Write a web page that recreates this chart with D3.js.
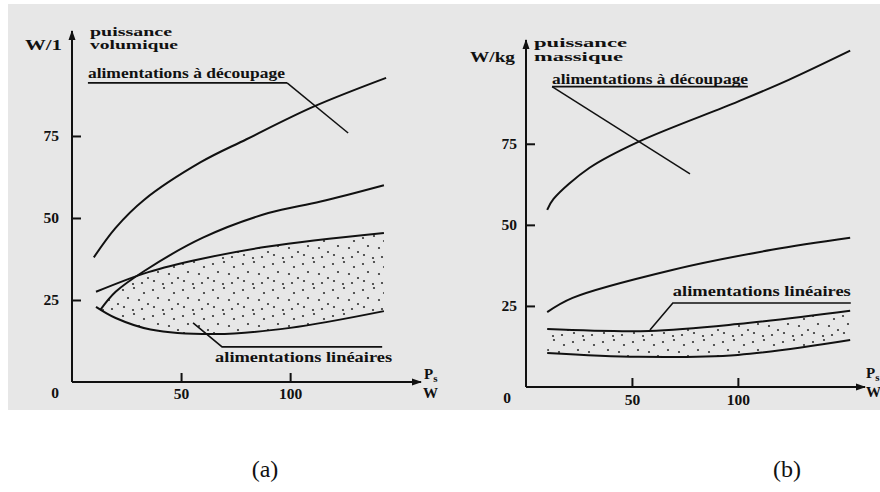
<!DOCTYPE html>
<html><head><meta charset="utf-8">
<script src="https://cdn.jsdelivr.net/npm/d3@7"></script>
<style>
body{margin:0;background:#fff}
svg{display:block}
</style>
</head><body>
<svg id="c" width="880" height="492"></svg>
<script>
// ---- data ----
const xTickValues = [50, 100];
const yTickValues = [25, 50, 75];

// (a) puissance volumique, W/l  vs Ps (W)
const volDecoupageHigh = [[10,38],[20,47],[33,55.5],[59,67],[80,74],[111,84],[144,92.7]];
const volDecoupageLow  = [[13,22],[20,27.5],[33.5,34],[60,44],[90,51.5],[114,55],[143,60]];
const volLineaireHigh  = [[11,27.5],[35,33.5],[59,37.5],[90,41.3],[143,45.4]];
const volLineaireLow   = [[11,22.9],[20,19.5],[36,16],[66,14.6],[100,16.5],[143,21.6]];

// (b) puissance massique, W/kg vs Ps (W)
const masDecoupageHigh = [[10,54.6],[13,58],[30,67.6],[53,75.6],[100,88],[124,94.7],[153,103.7]];
const masDecoupageLow  = [[10,23.1],[22,27.5],[69,36.1],[116,42.3],[153,46]];
const masLineaireHigh  = [[10,17.9],[58,17.3],[100,19.4],[153,23.5]];
const masLineaireLow   = [[10,10.5],[53,9.3],[100,9.9],[153,14.5]];

const labelDecoupage = "alimentations à découpage";
const labelLineaire = "alimentations linéaires";

// ---- drawing ----
const FONT = "'Liberation Serif'";
const INK = "#111";
const svg = d3.select("#c");
function txt(sel, x, y, s, size, bold){
  return sel.append("text").attr("x",x).attr("y",y)
    .style("font-family",FONT).style("font-size",size+"px")
    .style("font-weight",bold?"bold":"normal").style("fill",INK).text(s);
}
svg.append("rect").attr("x",0).attr("y",0).attr("width",880).attr("height",492).attr("fill","#fff");
svg.append("rect").attr("x",8).attr("y",4).attr("width",872).attr("height",406).attr("fill","#e7e7e7");

const defs = svg.append("defs");
defs.append("marker").attr("id","arrow").attr("viewBox","0 0 10 8")
  .attr("refX",9).attr("refY",4).attr("markerWidth",10).attr("markerHeight",8)
  .attr("markerUnits","userSpaceOnUse").attr("orient","auto")
  .append("path").attr("d","M0,0.5 L10,4 L0,7.5 Z").attr("fill",INK);

const pat = defs.append("pattern").attr("id","dots").attr("patternUnits","userSpaceOnUse")
  .attr("width",30).attr("height",26);
[[3,4],[14,2],[24,7],[8,12],[19,14],[28,18],[4,21],[13,24],[22,23]].forEach(p=>{
  pat.append("circle").attr("cx",p[0]).attr("cy",p[1]).attr("r",1.1).attr("fill","#333");
});

const panels = [
  {
    id:"a", xr:[72,421], yr:[382,31], ypad:13, xpad:6,
    unit:"W/1", unitX:25, unitY:50, unitLen:37,
    title:["puissance","volumique"], titleX:90, titleY:[36,49], titleLen:[82,88],
    dHigh:volDecoupageHigh, dLow:volDecoupageLow, lHigh:volLineaireHigh, lLow:volLineaireLow,
    zero:[-17,16], ps:[424,379], w:[423,398],
    dec:{tx:7.3, ty:92.7, len:197, ul:[7.3,91.2,98.6], lead:[126.6,75.9]},
    lin:{tx:65.6, ty:6.1, len:177, ul:[68.8,10.7,142.2], lead:[55.5,18]},
    clipByLow:true, cap:"(a)", capX:265
  },
  {
    id:"b", xr:[526,865], yr:[387,40], ypad:9, xpad:7,
    unit:"W/kg", unitX:470, unitY:62, unitLen:45,
    title:["puissance","massique"], titleX:534, titleY:[47,61], titleLen:[93,89],
    dHigh:masDecoupageHigh, dLow:masDecoupageLow, lHigh:masLineaireHigh, lLow:masLineaireLow,
    zero:[-19,16], ps:[866,378], w:[866,397],
    dec:{tx:12.3, ty:93.5, len:196, ul:[12.3,92.6,104.7], lead:[77.4,65.7]},
    lin:{tx:69.3, ty:28.1, len:178, ul:[69.3,25.9,153.3], lead:[58.5,17.6]},
    clipByLow:false, cap:"(b)", capX:787
  }
];

panels.forEach(p=>{
  const xs = d3.scaleLinear().domain([0,160]).range(p.xr);
  const ys = d3.scaleLinear().domain([0,107]).range(p.yr);
  const g = svg.append("g");
  const line = d3.line().x(d=>xs(d[0])).y(d=>ys(d[1])).curve(d3.curveCatmullRom.alpha(0.5));

  // dotted fill between linear boundaries
  const fillPath = line(p.lHigh) + "L" + line(p.lLow.slice().reverse()).slice(1) + "Z";
  const fillSel = g.append("path").attr("d",fillPath).attr("fill","url(#dots)").attr("stroke","none");
  if (p.clipByLow){
    const cpId = "clip"+p.id;
    const pts = p.dLow;
    const clipD = line(pts) + "L" + xs(170) + "," + ys(pts[pts.length-1][1]) + "L" + xs(170) + "," + ys(-5) + "L" + xs(pts[0][0]) + "," + ys(-5) + "Z";
    defs.append("clipPath").attr("id",cpId).append("path").attr("d",clipD);
    fillSel.attr("clip-path","url(#"+cpId+")");
  }

  // curves
  [p.dHigh,p.dLow,p.lHigh,p.lLow].forEach(s=>{
    g.append("path").attr("d",line(s)).attr("fill","none").attr("stroke",INK).attr("stroke-width",2);
  });

  // axes lines with arrows
  g.append("line").attr("x1",xs(0)).attr("y1",ys(0)).attr("x2",xs(0)).attr("y2",p.yr[1])
    .attr("stroke",INK).attr("stroke-width",2).attr("marker-end","url(#arrow)");
  g.append("line").attr("x1",xs(0)).attr("y1",ys(0)).attr("x2",p.xr[1]).attr("y2",ys(0))
    .attr("stroke",INK).attr("stroke-width",2).attr("marker-end","url(#arrow)");

  const ya = g.append("g").attr("transform","translate("+xs(0)+",0)")
    .call(d3.axisLeft(ys).tickValues(yTickValues).tickSize(-9).tickPadding(p.ypad).tickFormat(d3.format("d")));
  const xa = g.append("g").attr("transform","translate(0,"+ys(0)+")")
    .call(d3.axisBottom(xs).tickValues(xTickValues).tickSize(-9).tickPadding(p.xpad).tickFormat(d3.format("d")));
  [ya,xa].forEach(a=>{
    a.attr("font-family",null).attr("font-size",null);
    a.select(".domain").remove();
    a.selectAll("line").attr("stroke",INK).attr("stroke-width",2);
    a.selectAll("text").style("font-size","15.5px").style("font-weight","bold")
      .style("font-family",FONT).style("fill",INK);
  });

  txt(g, xs(0)+p.zero[0], ys(0)+p.zero[1], "0", 15.5, true).attr("text-anchor","middle");

  const psT = txt(g, p.ps[0], p.ps[1], "", 15, true);
  psT.append("tspan").text("P");
  psT.append("tspan").attr("dy",3).style("font-size","11px").text("s");
  txt(g, p.w[0], p.w[1], "W", 15, true);

  txt(g, p.unitX, p.unitY, p.unit, 15, true).attr("textLength",p.unitLen).attr("lengthAdjust","spacingAndGlyphs");
  p.title.forEach((t,i)=>{
    txt(g, p.titleX, p.titleY[i], t, 12.5, true).attr("textLength",p.titleLen[i]).attr("lengthAdjust","spacingAndGlyphs");
  });

  // découpage annotation
  txt(g, xs(p.dec.tx), ys(p.dec.ty), labelDecoupage, 15, true)
    .attr("textLength",p.dec.len).attr("lengthAdjust","spacingAndGlyphs");
  g.append("path").attr("d","M"+xs(p.dec.ul[0])+","+ys(p.dec.ul[1])+"L"+xs(p.dec.ul[2])+","+ys(p.dec.ul[1]))
    .attr("stroke",INK).attr("stroke-width",1.8).attr("fill","none");
  const decStart = p.id==="a" ? p.dec.ul[2] : p.dec.ul[0];
  g.append("path").attr("d","M"+xs(decStart)+","+ys(p.dec.ul[1])+"L"+xs(p.dec.lead[0])+","+ys(p.dec.lead[1]))
    .attr("stroke",INK).attr("stroke-width",1.5).attr("fill","none");

  // linéaire annotation
  txt(g, xs(p.lin.tx), ys(p.lin.ty), labelLineaire, 15, true)
    .attr("textLength",p.lin.len).attr("lengthAdjust","spacingAndGlyphs");
  g.append("path").attr("d","M"+xs(p.lin.lead[0])+","+ys(p.lin.lead[1])+"L"+xs(p.lin.ul[0])+","+ys(p.lin.ul[1])+"L"+xs(p.lin.ul[2])+","+ys(p.lin.ul[1]))
    .attr("stroke",INK).attr("stroke-width",1.6).attr("fill","none");

  txt(svg, p.capX, 477, p.cap, 24, false).attr("text-anchor","middle");
});
</script>
</body></html>
